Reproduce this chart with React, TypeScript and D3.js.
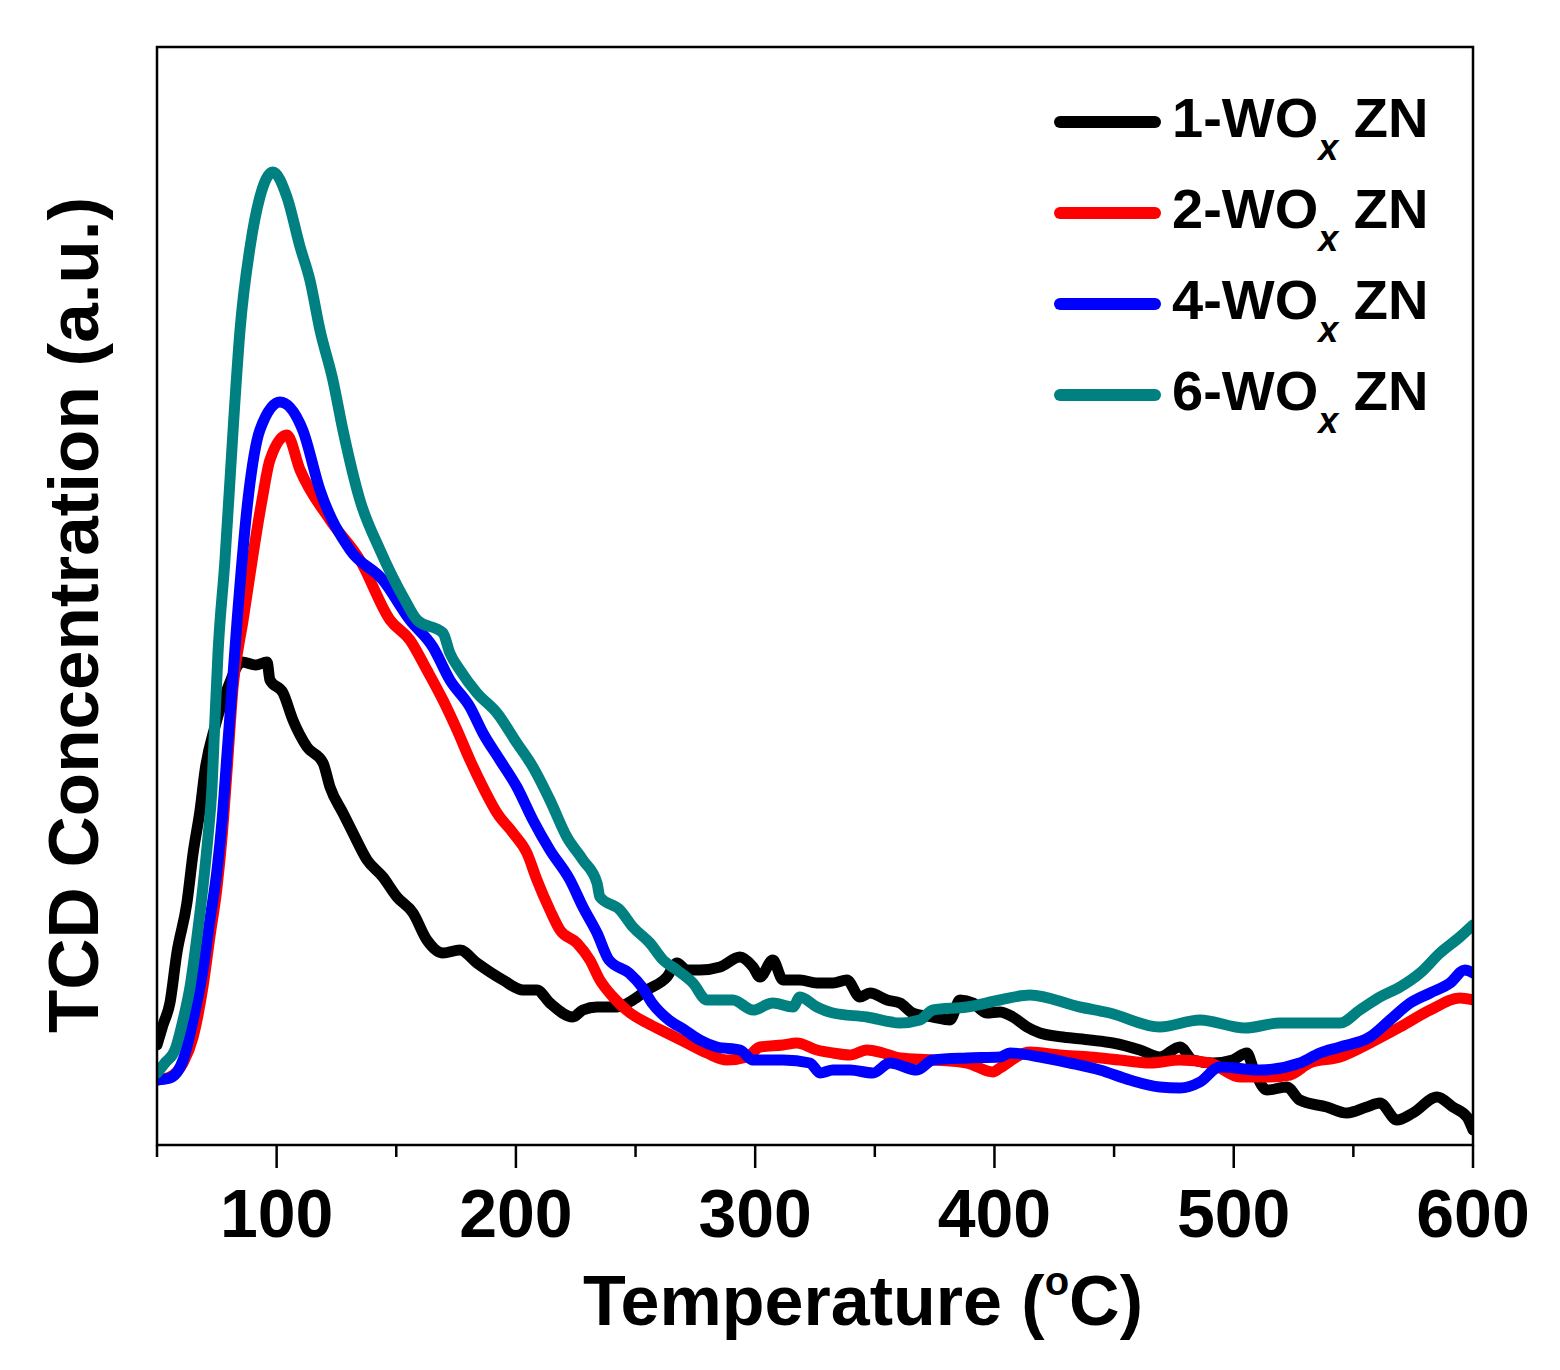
import React from "react";
import * as d3 from "d3";

// Temperature (°C) and TCD signal (a.u.)
const black1T = [50, 52.5, 55.4, 58.3, 62.5, 65.1, 68, 70.1, 74.2, 79.7, 85.5, 91.3, 96, 97.2, 102.7, 106.8, 112.7, 119.4, 122.3, 127.7, 131.9, 137.8, 144.4, 150.3, 157, 162.8, 169.5, 176.6, 183.7, 194.6, 202.9, 208.8, 214.2, 223.8, 228, 233.9, 242.2, 248.9, 254.8, 263.1, 267.3, 271.5, 276.9, 285.3, 293.6, 299.1, 302, 307.4, 311.6, 318.7, 325.8, 332.5, 338.3, 343.8, 348, 355.1, 360.5, 365.9, 374.3, 381.4, 385.6, 391, 396.8, 402.3, 407.7, 413.6, 419, 428.6, 439.9, 449.5, 460.8, 469.1, 477.5, 482.9, 491.3, 499.6, 505.5, 508, 513.9, 522.2, 527.6, 538.9, 547.3, 555.6, 561.1, 568.2, 574.9, 585, 591.6, 597.5, 600];
const black1V = [10.0, 12.0, 14.2, 19.2, 24.2, 29.2, 33.5, 37.5, 41.8, 45.8, 48.3, 48.0, 48.3, 46.5, 45.2, 42.5, 39.8, 38.2, 35.8, 33.2, 31.2, 28.5, 26.8, 24.8, 23.2, 20.5, 19.2, 19.5, 18.2, 16.5, 15.5, 15.5, 14.2, 12.8, 13.5, 13.8, 13.8, 14.5, 15.5, 16.8, 18.2, 17.5, 17.5, 17.8, 18.8, 17.8, 16.8, 18.5, 16.5, 16.5, 16.2, 16.2, 16.5, 14.8, 15.2, 14.5, 14.2, 13.2, 12.8, 12.5, 14.5, 14.2, 13.2, 13.3, 12.8, 11.8, 11.2, 10.8, 10.5, 10.2, 9.5, 8.8, 9.8, 8.5, 8.2, 8.5, 9.2, 7.8, 5.5, 5.8, 4.5, 3.8, 3.2, 3.8, 4.2, 2.5, 3.2, 4.8, 3.8, 2.8, 1.5];

const red2T = [50, 55.4, 60.9, 65.1, 69.2, 72.1, 75.1, 77.2, 79.3, 81.8, 86, 93.9, 97.2, 104.3, 109.8, 122.3, 134.8, 147.4, 155.7, 162.8, 169.5, 175.4, 180.8, 186.2, 192.1, 198.8, 204.6, 208.8, 214.2, 218.4, 225.5, 230.9, 235.1, 240.6, 247.7, 254.8, 263.1, 271.5, 279.8, 288.2, 296.6, 302, 311.6, 317.4, 325.8, 332.5, 339.6, 346.7, 353.4, 360.5, 374.3, 388.5, 399.4, 402.3, 414.8, 427.4, 439.9, 452.4, 465, 477.5, 490, 502.6, 515.1, 523.5, 531.8, 544.4, 556.9, 569.5, 582.1, 594.5, 600];
const red2V = [6.5, 6.8, 8.2, 10.8, 15.8, 20.8, 25.8, 30.8, 37.5, 45.8, 52.5, 64.5, 68.5, 71.0, 67.5, 62.5, 58.5, 52.5, 50.5, 47.5, 44.5, 41.5, 38.5, 35.8, 33.2, 31.2, 29.2, 26.5, 23.5, 21.5, 20.2, 18.5, 16.5, 14.8, 13.2, 12.2, 11.2, 10.2, 9.2, 8.5, 8.8, 9.8, 10.0, 10.2, 9.5, 9.2, 9.0, 9.5, 9.2, 8.7, 8.5, 8.2, 7.3, 7.7, 9.3, 9.0, 8.8, 8.5, 8.2, 8.5, 8.2, 6.8, 6.8, 7.0, 8.2, 8.8, 10.2, 11.8, 13.5, 14.7, 14.5];

const blue4T = [50, 55.4, 60.9, 65.1, 69.2, 72.1, 75.1, 77.2, 79.3, 81.4, 83.5, 88, 93, 101.4, 110.9, 118.1, 130.7, 144.4, 155.7, 165.3, 172.4, 180.8, 186.2, 193.3, 200.4, 207.1, 214.2, 222.6, 228, 233.9, 238.9, 247.3, 252.7, 256.9, 263.9, 270.6, 276.9, 284, 293.6, 299.1, 311.6, 322.9, 327.1, 332.5, 339.6, 349.2, 356.3, 367.6, 374.3, 388.5, 402.3, 406.5, 419, 431.5, 444.1, 456.6, 469.1, 477.5, 485.9, 494.2, 510.9, 527.6, 536, 544.4, 556.9, 565.3, 573.7, 582.1, 590.4, 596.6, 600];
const blue4V = [6.5, 6.7, 8.5, 12.5, 17.5, 22.5, 27.5, 32.5, 39.2, 45.8, 52.5, 64.5, 71.5, 74.3, 71.5, 65.5, 59.5, 56.5, 52.5, 49.8, 46.5, 43.8, 41.2, 38.5, 35.8, 32.5, 29.5, 26.5, 23.8, 21.2, 18.5, 17.2, 15.8, 14.2, 12.5, 11.5, 10.5, 9.8, 9.5, 8.5, 8.5, 8.2, 7.2, 7.5, 7.5, 7.2, 8.2, 7.5, 8.5, 8.7, 8.8, 9.2, 8.8, 8.2, 7.5, 6.5, 5.8, 5.7, 6.3, 7.8, 7.5, 8.2, 9.2, 9.8, 10.8, 12.5, 14.2, 15.2, 16.2, 17.5, 17.2];

const teal6T = [50, 53.3, 57.5, 60.9, 63.8, 66.7, 69.2, 71.3, 73, 74.2, 75.5, 78.4, 80.5, 81.8, 84.7, 88.9, 93, 98.5, 104.3, 109.8, 113.9, 118.1, 123.5, 127.7, 134.8, 143.2, 153.6, 158.7, 169.5, 172.4, 176.6, 183.7, 192.1, 200.4, 207.1, 214.2, 221.3, 228, 233.9, 235.1, 243.5, 248.9, 256, 261.5, 267.3, 274, 279.8, 290.7, 299.1, 307.4, 315.8, 318.7, 325.8, 332.5, 346.7, 360.5, 368.8, 374.3, 388.5, 402.3, 414.8, 435.7, 448.2, 469.1, 485.9, 504.7, 519.3, 544.4, 552.7, 561.1, 569.5, 577.9, 586.2, 594.5, 600];
const teal6V = [7.2, 8.2, 9.5, 12.5, 15.8, 20.8, 25.8, 30.8, 35.8, 42.5, 49.2, 58.5, 66.5, 71.5, 81.5, 89.8, 94.8, 97.3, 94.8, 89.8, 86.5, 81.5, 76.5, 71.5, 64.5, 59.5, 54.5, 52.5, 51.2, 49.2, 47.5, 45.2, 43.2, 40.2, 37.8, 34.5, 30.8, 28.5, 26.2, 24.8, 23.5, 21.8, 20.2, 18.5, 17.5, 16.2, 14.5, 14.5, 13.5, 14.2, 13.8, 14.8, 13.8, 13.2, 12.8, 12.2, 12.5, 13.5, 13.8, 14.5, 15.0, 13.8, 13.2, 11.8, 12.5, 11.7, 12.2, 12.2, 13.5, 14.8, 15.8, 17.2, 19.2, 20.8, 22.0];

const seriesNames = ["1", "2", "4", "6"];
const seriesColors = ["#000000", "#ff0000", "#0000ff", "#008080"];
const seriesT = [black1T, red2T, blue4T, teal6T];
const seriesV = [black1V, red2V, blue4V, teal6V];

const majorTicks = [100, 200, 300, 400, 500, 600];
const minorTicks = [50, 150, 250, 350, 450, 550];

const W = 1560;
const H = 1370;
const L = 157, R = 1473, T = 47, B = 1145;

export default function App() {
  const x = d3.scaleLinear().domain([50, 600]).range([L, R]);
  const y = d3.scaleLinear().domain([0, 109.8]).range([B, T]);
  const gen = d3
    .line<[number, number]>()
    .x((d) => x(d[0]))
    .y((d) => y(d[1]))
    .curve(d3.curveMonotoneX);

  const font = "Arial, 'Liberation Sans', Helvetica, sans-serif";

  return (
    <svg
      width={W}
      height={H}
      style={{ position: "absolute", left: 0, top: 0, background: "#fff" }}
      fontFamily={font}
    >
      <defs>
        <clipPath id="plotclip">
          <rect x={L} y={T} width={R - L} height={B - T} />
        </clipPath>
      </defs>
      <rect x={0} y={0} width={W} height={H} fill="#fff" />
      <g clipPath="url(#plotclip)">
        {seriesT.map((ts, i) => {
          const pts: [number, number][] = ts.map((t, j) => [t, seriesV[i][j]]);
          return (
            <path
              key={i}
              d={gen(pts) || ""}
              fill="none"
              stroke={seriesColors[i]}
              strokeWidth={11}
              strokeLinejoin="round"
              strokeLinecap="round"
            />
          );
        })}
      </g>
      <rect x={L} y={T} width={R - L} height={B - T} fill="none" stroke="#000" strokeWidth={2.5} />
      {majorTicks.map((t) => (
        <line key={"M" + t} x1={x(t)} x2={x(t)} y1={B} y2={B + 23} stroke="#000" strokeWidth={2.5} />
      ))}
      {minorTicks.map((t) => (
        <line key={"m" + t} x1={x(t)} x2={x(t)} y1={B} y2={B + 12} stroke="#000" strokeWidth={2.5} />
      ))}
      {majorTicks.map((t) => (
        <text key={"l" + t} x={x(t)} y={1237} textAnchor="middle" fontSize={68} fontWeight="bold" fill="#000">
          {t}
        </text>
      ))}
      <text x={863} y={1325} textAnchor="middle" fontSize={70} fontWeight="bold" fill="#000">
        Temperature (
        <tspan fontSize={40} dy={-30}>o</tspan>
        <tspan dy={30}>C)</tspan>
      </text>
      <text
        transform="translate(98,615) rotate(-90)"
        textAnchor="middle"
        fontSize={71}
        fontWeight="bold"
        fill="#000"
      >
        TCD Concentration (a.u.)
      </text>
      {seriesNames.map((n, i) => {
        const ly = 122 + i * 91;
        return (
          <g key={"lg" + n}>
            <line x1={1060} x2={1155} y1={ly} y2={ly} stroke={seriesColors[i]} strokeWidth={12} strokeLinecap="round" />
            <text x={1172} y={ly + 15} fontSize={56} fontWeight="bold" fill="#000">
              {n}-WO
              <tspan fontSize={36} fontStyle="italic" dy={23}>x</tspan>
              <tspan dy={-23}> ZN</tspan>
            </text>
          </g>
        );
      })}
    </svg>
  );
}
